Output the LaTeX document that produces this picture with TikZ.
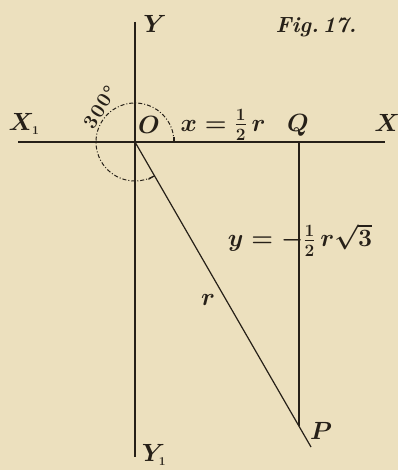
\documentclass[tikz,border=0pt]{standalone}
\usepackage{amsmath}
\usepackage{textcomp}
\definecolor{paper}{RGB}{236,224,190}
\definecolor{ink}{RGB}{38,32,24}
\begin{document}
\begin{tikzpicture}[x=1pt,y=-1pt,
  axis/.style={draw=ink,line width=1.4pt},
  thin/.style={draw=ink,line width=1.2pt},
  lbl/.style={text=ink,inner sep=0pt,font=\fontsize{24}{28}\selectfont\boldmath},
  small/.style={text=ink,inner sep=0pt,font=\fontsize{20}{24}\selectfont\bfseries},
  arcstyle/.style={draw=ink,line width=1pt,dash pattern=on 4pt off 2pt on 1pt off 2pt}]
\fill[paper] (0,0) rectangle (398,470);
\useasboundingbox (0,0) rectangle (398,470);
% points
\coordinate (O) at (135,142);
\coordinate (Ytop) at (135,22);
\coordinate (Ybot) at (135,457);
\coordinate (Xl) at (18,142);
\coordinate (Xr) at (385,142);
\coordinate (Qp) at (299,142);
\coordinate (Pp) at (299,426);
\coordinate (Pend) at (311,447);
% axes
\draw[axis] (Ytop) -- (Ybot);
\draw[axis] (Xl) -- (Xr);
% triangle
\draw[thin] (Qp) -- (Pp);
\draw[thin] (O) -- (Pend);
% angle arc (y flipped: counterclockwise in picture = negative angles here)
\draw[arcstyle] (O) ++(0:39) arc[start angle=0,end angle=-300,radius=39];
\draw[ink,line width=1.2pt] (O) ++(0:39) ++(0,1) -- ++(0,-6);
\draw[ink,line width=1.2pt] (O) ++(-300:39) -- ++(-30:-7);
% labels
\node[lbl] (lY) at (155,24) {$Y$};
\node[lbl,font=\fontsize{22}{26}\selectfont\bfseries\itshape] (fig) at (316,27) {Fig.\,17.};
\node[lbl] (lX1) at (24,124) {$X_{\scriptscriptstyle 1}$};
\node[lbl] (lX) at (387,123) {$X$};
\node[lbl] (lQ) at (298,125) {$Q$};
\node[lbl] (lO) at (149,125) {$O$};
\node[lbl] (lx) at (223,125) {$x=\tfrac{1}{2}\,r$};
\node[lbl] (ly) at (300,240) {$y=-\tfrac{1}{2}\,r\sqrt{3}$};
\node[lbl] (lr) at (208,300) {$r$};
\node[lbl] (lP) at (321,431) {$P$};
\node[lbl] (lY1) at (154,455) {$Y_{\scriptscriptstyle 1}$};
\node[small,rotate=57] (deg) at (100,107) {3\kern1.5pt0\kern1.5pt0\kern1pt\textdegree};
\end{tikzpicture}
\end{document}
